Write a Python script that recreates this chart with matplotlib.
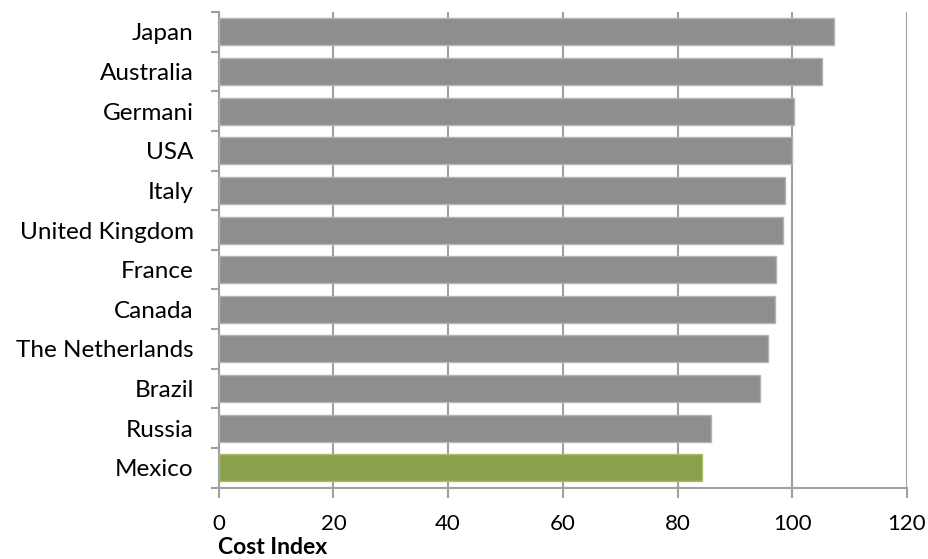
import matplotlib
matplotlib.use("Agg")
import matplotlib.pyplot as plt

countries = ["Japan", "Australia", "Germani", "USA", "Italy", "United Kingdom",
             "France", "Canada", "The Netherlands", "Brazil", "Russia", "Mexico"]
values = [107.3, 105.1, 100.3, 100.0, 98.7, 98.3, 97.1, 96.9, 95.7, 94.3, 85.8, 84.3]
highlight = "Mexico"
xticks = [0, 20, 40, 60, 80, 100, 120]
xlabel = "Cost Index"

plt.rcParams['font.family'] = ['Lato', 'DejaVu Sans']

fig = plt.figure(figsize=(9.29, 5.59), dpi=100)
ax = fig.add_axes([218.7/929, (559-487.7)/559, (907-218.7)/929, (487.7-12)/559])

n = len(countries)
ypos = list(range(n))[::-1]
colors = ["#8aa14b" if c == highlight else "#8e8e8e" for c in countries]
edges = ["#a9bd6f" if c == highlight else "#b4b4b4" for c in countries]
ax.barh(ypos, values, height=0.68, color=colors, edgecolor=edges, linewidth=1, zorder=3)

ax.set_xlim(0, 120)
ax.set_ylim(-0.5, n - 0.5)
ax.set_xticks(xticks)
ax.set_xticklabels([str(t) for t in xticks], fontsize=16)
ax.set_yticks(ypos)
ax.set_yticklabels(countries, fontsize=17.5)
ax.set_yticks([i - 0.5 for i in range(n + 1)], minor=True)
ax.tick_params(axis='y', which='major', length=0, pad=18)
ax.tick_params(axis='y', which='minor', length=6, color='#a0a0a0', width=1.5)
ax.tick_params(axis='x', which='major', length=7, color='#a0a0a0', width=1.5, pad=12)

ax.grid(axis='x', color='#a0a0a0', linewidth=1.5, zorder=0)
for s in ['top', 'right']:
    ax.spines[s].set_visible(False)
for s in ['left', 'bottom']:
    ax.spines[s].set_color('#a0a0a0')
    ax.spines[s].set_linewidth(1.5)

fig.text(218/929, 1 - 548/559, xlabel, fontsize=16.5, fontweight='bold', ha='left', va='center')

fig.savefig("out.png", dpi=100)
